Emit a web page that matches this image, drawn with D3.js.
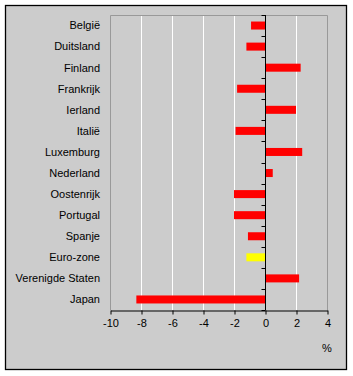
<!DOCTYPE html>
<html>
<head>
<meta charset="utf-8">
<script src="https://cdn.jsdelivr.net/npm/d3@7"></script>
<style>
  body { margin: 0; background: #fff; }
  text { font-family: "Liberation Sans", Arial, sans-serif; font-size: 11px; fill: #000; }
</style>
</head>
<body>
<svg width="353" height="376"></svg>
<script>
"use strict";

const countries = ["België", "Duitsland", "Finland", "Frankrijk", "Ierland", "Italië",
    "Luxemburg", "Nederland", "Oostenrijk", "Portugal", "Spanje", "Euro-zone",
    "Verenigde Staten", "Japan"];
const values = [-0.9, -1.2, 2.3, -1.8, 2.0, -1.9, 2.4, 0.5, -2.0, -2.0, -1.1, -1.2, 2.2, -8.3];
const xTicks = [-10, -8, -6, -4, -2, 0, 2, 4];
const highlight = "Euro-zone";

const plotLeft = 110, plotRight = 327, plotTop = 15, plotBottom = 310;

const svg = d3.select("svg");

// outer frame
svg.append("rect")
    .attr("x", 5.5).attr("y", 5.5)
    .attr("width", 341).attr("height", 364)
    .attr("fill", "#cccccc")
    .attr("stroke", "#000")
    .attr("stroke-width", 1.3);

const xScale = d3.scaleLinear().domain([-10, 4]).range([plotLeft, plotRight]);
const yScale = d3.scaleBand().domain(countries).range([plotTop, plotBottom])
    .paddingInner(0.62).paddingOuter(0.31);

// gridlines
svg.selectAll("line.grid")
    .data(xTicks.filter(t => t !== -10 && t !== 4 && t !== 0))
    .join("line")
    .attr("class", "grid")
    .attr("x1", d => Math.round(xScale(d)) + 0.5)
    .attr("x2", d => Math.round(xScale(d)) + 0.5)
    .attr("y1", plotTop).attr("y2", plotBottom)
    .attr("stroke", "#fff");

// plot border (left, top, right)
svg.append("path")
    .attr("d", `M${plotLeft + 0.5},${plotBottom}V${plotTop + 0.5}H${plotRight + 0.5}V${plotBottom}`)
    .attr("fill", "none")
    .attr("stroke", "#999");

// bars
svg.selectAll("rect.bar")
    .data(countries)
    .join("rect")
    .attr("class", "bar")
    .attr("x", (d, i) => xScale(Math.min(0, values[i])))
    .attr("width", (d, i) => Math.abs(xScale(values[i]) - xScale(0)))
    .attr("y", d => yScale(d))
    .attr("height", yScale.bandwidth())
    .attr("fill", d => d === highlight ? "#ffff00" : "#ff0000");

// category labels
svg.selectAll("text.cat")
    .data(countries)
    .join("text")
    .attr("class", "cat")
    .attr("x", 100)
    .attr("y", d => yScale(d) + yScale.bandwidth() / 2)
    .attr("dy", "0.35em")
    .attr("text-anchor", "end")
    .text(d => d);

// zero axis with ticks at band boundaries
const x0 = Math.round(xScale(0)) + 0.5;
svg.append("line")
    .attr("x1", x0).attr("x2", x0)
    .attr("y1", plotTop).attr("y2", plotBottom)
    .attr("stroke", "#000");
const step = (plotBottom - plotTop) / countries.length;
svg.selectAll("line.ytick")
    .data(d3.range(countries.length + 1))
    .join("line")
    .attr("class", "ytick")
    .attr("x1", x0 - 4).attr("x2", x0)
    .attr("y1", i => Math.round(plotTop + i * step) + 0.5)
    .attr("y2", i => Math.round(plotTop + i * step) + 0.5)
    .attr("stroke", "#000");

// x axis
const xAxis = d3.axisBottom(xScale)
    .tickValues(xTicks)
    .tickSize(4)
    .tickSizeOuter(0)
    .tickPadding(5)
    .tickFormat(d3.format("d"));
const gx = svg.append("g")
    .attr("transform", `translate(0.5,${plotBottom + 0.5})`)
    .call(xAxis);
gx.select(".domain").attr("stroke", "#000");
gx.selectAll(".tick line").attr("stroke", "#000");
gx.selectAll(".tick text")
    .attr("font-family", "Liberation Sans, Arial, sans-serif")
    .attr("font-size", 11)
    .attr("fill", "#000")
    .text(d => d < 0 ? "-" + Math.abs(d) : d);

svg.append("text")
    .attr("x", 327)
    .attr("y", 352)
    .attr("text-anchor", "middle")
    .text("%");
</script>
</body>
</html>
